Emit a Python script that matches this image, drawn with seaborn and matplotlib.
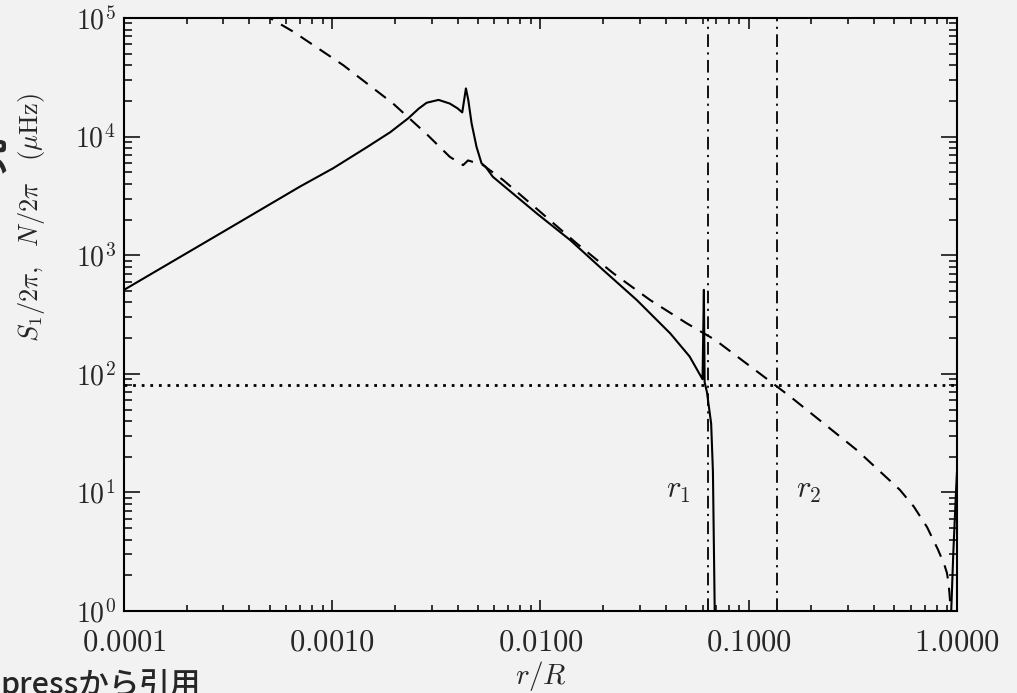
import matplotlib
matplotlib.use("Agg")
import matplotlib.pyplot as plt
import numpy as np
import pandas as pd
import seaborn as sns
from matplotlib.ticker import LogLocator, NullFormatter

# buoyancy frequency N/2pi (uHz), solid line; seg 1 = near-surface part
n_r = [1e-4, 3e-4, 7e-4, 1.01e-3, 1.46e-3, 1.9e-3, 2.32e-3, 2.6e-3, 2.84e-3,
       3.24e-3, 3.67e-3, 4.0e-3, 4.21e-3, 4.385e-3, 4.5e-3, 4.67e-3, 4.93e-3,
       5.21e-3, 5.45e-3, 5.9e-3, 9.6e-3, 1.39e-2, 2.0e-2, 2.9e-2, 4.2e-2,
       5.2e-2, 6.0e-2, 6.09e-2, 6.14e-2, 6.3e-2, 6.6e-2, 6.73e-2, 6.9e-2,
       0.925, 0.96, 0.99, 1.0]
n_freq = [510, 1580, 3790, 5410, 8100, 10900, 14300, 17200, 19300,
          20400, 19000, 17300, 16000, 25500, 20400, 12900, 8200,
          5960, 5570, 4590, 2250, 1340, 750, 419, 219,
          140, 90, 510, 85, 70, 38, 15, 0.5,
          0.5, 3.1, 10.5, 15]
n_seg = [0] * 33 + [1] * 4

# Lamb frequency S1/2pi (uHz), dashed line
s_r = [1e-4, 5.02e-4, 6.5e-4, 1.13e-3, 1.96e-3, 2.84e-3, 3.67e-3, 4.25e-3,
       4.49e-3, 5.3e-3, 6.62e-3, 9.95e-3, 1.49e-2, 2.24e-2, 3.36e-2, 5.03e-2,
       6.9e-2, 0.1306, 0.1614, 0.331, 0.532, 0.62, 0.718, 0.81, 0.87, 0.895,
       0.912, 0.925, 0.935]
s_freq = [7.4e5, 1.0e5, 76700, 40000, 19000, 10500, 6750, 5750,
          6300, 5750, 4300, 2330, 1260, 703, 419, 267,
          193, 83, 62.5, 22.7, 10.5, 7.6, 5.1, 3.3, 2.45, 2.09,
          1.7, 1.25, 0.6]

nu_mode = 80          # dotted horizontal line
r1, r2 = 0.064, 0.137  # turning points

x_ticks = [1e-4, 1e-3, 1e-2, 1e-1, 1.0]
x_ticklabels = ["0.0001", "0.0010", "0.0100", "0.1000", "1.0000"]
y_exps = [0, 1, 2, 3, 4, 5]

bg = "#f2f2f2"
sns.set_style("ticks")
plt.rcParams["mathtext.fontset"] = "cm"
plt.rcParams["font.family"] = ["DejaVu Serif"]
plt.rcParams["axes.linewidth"] = 1.5

n_df = pd.DataFrame({"r": n_r, "freq": n_freq, "seg": n_seg})
s_df = pd.DataFrame({"r": s_r, "freq": s_freq})

fig = plt.figure(figsize=(10.17, 6.93), dpi=100, facecolor=bg)
ax = fig.add_axes([0.1219, 0.1183, 0.8191, 0.8557])
ax.set_facecolor(bg)

sns.lineplot(data=n_df, x="r", y="freq", units="seg", estimator=None, sort=False,
             color="black", lw=1.5, ax=ax)
sns.lineplot(data=s_df, x="r", y="freq", estimator=None, sort=False,
             color="black", lw=1.5, linestyle=(0, (6.5, 4.5)), ax=ax)

ax.axhline(nu_mode, color="black", lw=2, linestyle=(0, (1, 2.1)))
for rr in (r1, r2):
    ax.axvline(rr, color="black", lw=1.3, linestyle=(0, (7, 3, 1.2, 3)))

ax.text(0.046, 10.5, "$r_1$", fontsize=22, ha="center", va="center")
ax.text(0.195, 10.5, "$r_2$", fontsize=22, ha="center", va="center")

ax.set_xscale("log")
ax.set_yscale("log")
ax.set_xlim(1e-4, 1.0)
ax.set_ylim(1, 1e5)

ax.set_xticks(x_ticks)
ax.set_xticklabels(["$" + s + "$" for s in x_ticklabels], fontsize=22)
ax.set_yticks([10.0 ** k for k in y_exps])
ax.set_yticklabels(["$10^{%d}$" % k for k in y_exps], fontsize=20)
ax.xaxis.set_minor_locator(LogLocator(base=10, subs=np.arange(2, 10)))
ax.yaxis.set_minor_locator(LogLocator(base=10, subs=np.arange(2, 10)))
ax.xaxis.set_minor_formatter(NullFormatter())
ax.yaxis.set_minor_formatter(NullFormatter())

ax.tick_params(which="both", direction="in", top=True, right=True, width=1.1, color="black")
ax.tick_params(axis="x", which="major", length=8, pad=11)
ax.tick_params(axis="x", which="minor", length=4)
ax.tick_params(axis="y", which="major", length=11.5, pad=6)
ax.tick_params(axis="y", which="minor", length=5.8)
for sp in ax.spines.values():
    sp.set_visible(True)
    sp.set_color("black")

ax.set_xlabel("$r/R$", fontsize=21, labelpad=1)
ax.set_ylabel(r"$S_1/2\pi,\ \ N/2\pi\ \ \ (\mu{\rm Hz})$", fontsize=19)
ax.yaxis.set_label_coords(-0.093, 0.663)

# fragments of surrounding page text
fig.text(0.0, -0.002, "pressから引用", fontsize=22, fontweight="medium",
         family=["Noto Sans CJK JP", "DejaVu Sans"], ha="left", va="baseline")
fig.text(-0.026, 0.776, "究", fontsize=26, fontweight="bold", rotation=90,
         family=["Noto Sans CJK JP", "DejaVu Sans"], ha="left", va="center")

fig.savefig("out.png", dpi=100, facecolor=bg)
